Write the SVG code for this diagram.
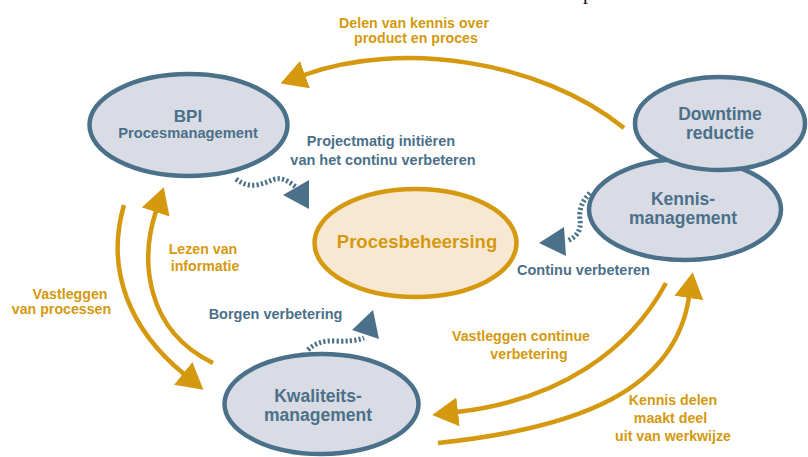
<svg xmlns="http://www.w3.org/2000/svg" width="808" height="457" viewBox="0 0 808 457">
<defs>
<style>
.node{fill:#d9dce4;stroke:#4b7089;stroke-width:4.5}
.core{fill:#f8e8d2;stroke:#d4990f;stroke-width:4.5}
.nt{font-family:"Liberation Sans",Arial,sans-serif;font-weight:bold;fill:#4b7089;text-anchor:middle}
.bt{font-family:"Liberation Sans",Arial,sans-serif;font-weight:bold;fill:#4b7089;font-size:14.5px;text-anchor:middle}
.gt{font-family:"Liberation Sans",Arial,sans-serif;font-weight:bold;fill:#d4990f;font-size:14.2px;text-anchor:middle}
.gold{fill:none;stroke:#d4990f;stroke-width:4.5;marker-end:url(#ah)}
.dot{fill:none;stroke:#4b7089;stroke-width:5;stroke-dasharray:2.2 2.2}
.bh{fill:#4b7089}
</style>
<marker id="ah" markerUnits="userSpaceOnUse" markerWidth="26" markerHeight="30" viewBox="0 0 25 28" refX="1" refY="14" orient="auto">
<path d="M0,0 L25,14 L0,28 z" fill="#d4990f"/>
</marker>
</defs>
<text x="583" y="-1" font-family="Liberation Serif,serif" font-size="20" fill="#111">p</text>
<g id="connectors">
<path class="gold" d="M624,128 C540,60 400,40 304,75"/>
<path class="gold" d="M124,205 C105,270 130,330 184,374"/>
<path class="gold" d="M213,363 C145,330 140,260 156,211"/>
<path class="gold" d="M666,283 C630,350 560,400 457,412"/>
<path class="gold" d="M438,443 C580,428 675,390 689,297"/>
<path class="dot" d="M236,179 C250,190 262,184 272,180 S290,182 297,188"/>
<polygon class="bh" points="283,195 309,180 309,209"/>
<path class="dot" d="M590,193 Q578,205 580,220 T567,241"/>
<polygon class="bh" points="539,243 564,227 566,256"/>
<path class="dot" d="M308,350 Q318,340 335,341 T364,338"/>
<polygon class="bh" points="352,330 373,310 379,339"/>
</g>
<g id="bpi">
<ellipse class="node" cx="188.5" cy="125" rx="99" ry="51"/>
<text class="nt" x="188" y="122" font-size="17">BPI</text>
<text class="nt" x="188" y="138" font-size="14.7">Procesmanagement</text>
</g>
<g id="procesbeheersing">
<ellipse class="core" cx="415.5" cy="243" rx="101" ry="54"/>
<text class="nt" x="417" y="248" font-size="18.5" style="fill:#d4990f">Procesbeheersing</text>
</g>
<g id="kennis">
<ellipse class="node" cx="685" cy="209.5" rx="96" ry="50.5"/>
<text class="nt" x="683" y="205" font-size="17.5">Kennis-</text>
<text class="nt" x="683" y="224" font-size="17.5">management</text>
</g>
<g id="downtime">
<ellipse class="node" cx="720" cy="123.5" rx="85" ry="46.5"/>
<text class="nt" x="720" y="120" font-size="17.5">Downtime</text>
<text class="nt" x="720" y="139" font-size="17.5">reductie</text>
</g>
<g id="kwaliteit">
<ellipse class="node" cx="321.5" cy="404" rx="97" ry="50"/>
<text class="nt" x="318" y="402" font-size="17.5">Kwaliteits-</text>
<text class="nt" x="318" y="421" font-size="17.5">management</text>
</g>
<g id="labels">
<text class="gt" x="414" y="28">Delen van kennis over</text>
<text class="gt" x="416" y="43">product en proces</text>
<text class="bt" x="381" y="146">Projectmatig initiëren</text>
<text class="bt" x="383" y="165">van het continu verbeteren</text>
<text class="bt" x="583.5" y="275">Continu verbeteren</text>
<text class="bt" x="275.5" y="319">Borgen verbetering</text>
<text class="gt" x="203" y="254">Lezen van</text>
<text class="gt" x="205" y="271">informatie</text>
<text class="gt" x="70" y="299">Vastleggen</text>
<text class="gt" x="61.5" y="314">van processen</text>
<text class="gt" x="521" y="341">Vastleggen continue</text>
<text class="gt" x="529" y="359">verbetering</text>
<text class="gt" x="673" y="405">Kennis delen</text>
<text class="gt" x="670.5" y="423">maakt deel</text>
<text class="gt" x="673" y="441">uit van werkwijze</text>
</g>
</svg>
